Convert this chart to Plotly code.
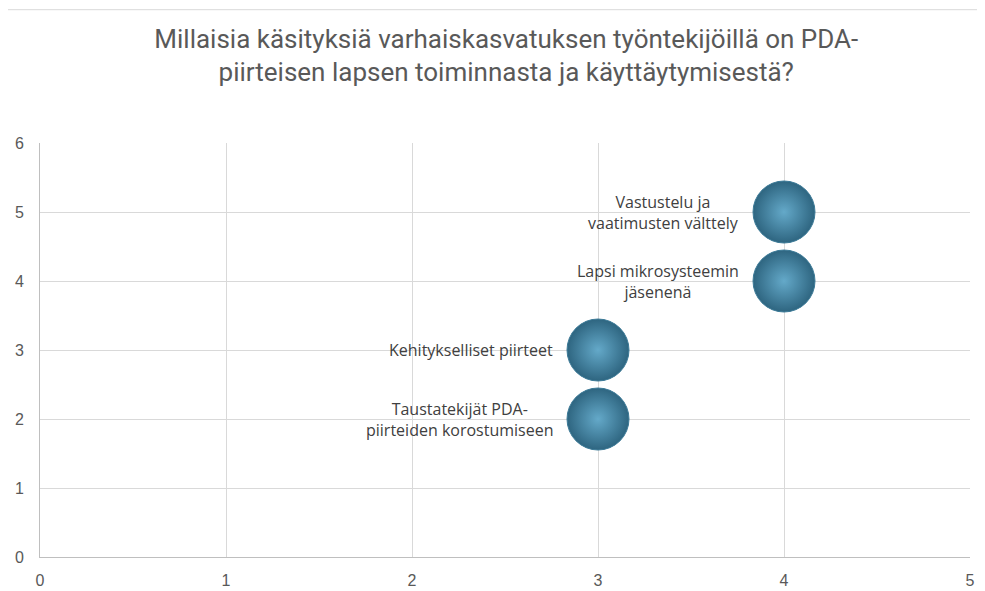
import plotly.graph_objects as go

# data
x_vals = [4, 4, 3, 3]
y_vals = [5, 4, 3, 2]
labels = ["Vastustelu ja<br>vaatimusten välttely",
          "Lapsi mikrosysteemin<br>jäsenenä",
          "Kehitykselliset piirteet",
          "Taustatekijät PDA-<br>piirteiden korostumiseen"]
x_ticks = [0, 1, 2, 3, 4, 5]
y_ticks = [0, 1, 2, 3, 4, 5, 6]

title_txt = ("Millaisia käsityksiä varhaiskasvatuksen työntekijöillä on PDA-<br>"
             "piirteisen lapsen toiminnasta ja käyttäytymisestä?")

fig = go.Figure()

# sphere look: radial gradient, marker.color = rim, gradient.color = centre
fig.add_trace(go.Scatter(
    x=x_vals, y=y_vals, mode="markers",
    marker=dict(size=62, color="#2e6580",
                gradient=dict(type="radial", color="#64a9c9"),
                line=dict(width=1, color="#3d7b98")),
    hoverinfo="skip", showlegend=False))

for xv, yv, lab in zip(x_vals, y_vals, labels):
    fig.add_annotation(x=xv, y=yv, text=lab, showarrow=False,
                       xanchor="right", yanchor="middle", xshift=-43,
                       align="center",
                       font=dict(family="Open Sans", size=16, color="#404040"))

fig.add_shape(type="line", xref="paper", yref="paper", x0=-0.04, x1=1.01,
              y0=1.322, y1=1.322, line=dict(color="#d9d9d9", width=1))

fig.update_layout(
    width=977, height=583,
    paper_bgcolor="white", plot_bgcolor="white",
    margin=dict(l=32, r=15, t=135, b=34, autoexpand=False),
    title=dict(text=title_txt, x=0.51, xanchor="center", y=0.932, yanchor="top",
               font=dict(family="Roboto", size=26, color="#595959")),
    showlegend=False,
)
fig.update_xaxes(range=[0, 5], tickvals=x_ticks, showgrid=True, gridcolor="#d9d9d9",
                 zeroline=False, showline=True, linecolor="#bfbfbf", linewidth=1,
                 ticks="", ticklabelstandoff=9, automargin=False,
                 tickfont=dict(family="Liberation Sans, Arial", size=16, color="#595959"),
                 fixedrange=True)
fig.update_yaxes(range=[0, 6], tickvals=y_ticks, showgrid=True, gridcolor="#d9d9d9",
                 zeroline=False, showline=True, linecolor="#bfbfbf", linewidth=1,
                 ticks="", ticklabelstandoff=12, automargin=False,
                 tickfont=dict(family="Liberation Sans, Arial", size=16, color="#595959"),
                 fixedrange=True)

fig.write_html("out.html")
